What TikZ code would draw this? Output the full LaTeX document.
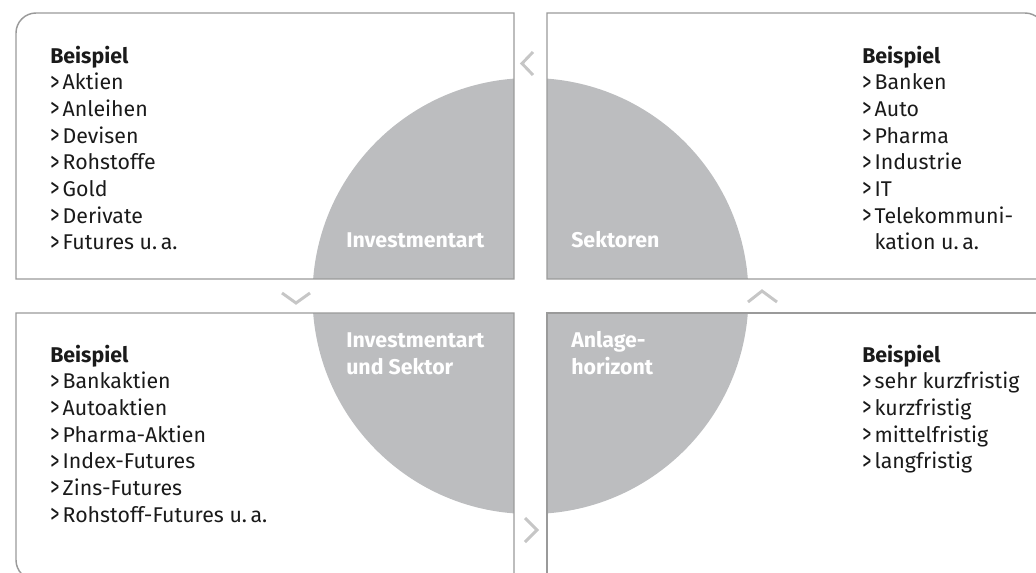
\documentclass[tikz,border=0pt]{standalone}
\usepackage{fontspec}
\usepackage{graphicx}
\setmainfont{Fira Sans}
\usetikzlibrary{positioning}

\definecolor{quadgray}{HTML}{BCBDBF}
\definecolor{framegray}{HTML}{9A9A9A}
\definecolor{arrowgray}{HTML}{C6C6C6}
\definecolor{textblack}{HTML}{1A1A1A}

\newcommand{\bsp}{\raisebox{-1pt}{\scalebox{0.85}[1.3]{\textgreater}}\hspace{2.5pt}}

\tikzset{
  panel/.style={draw=framegray, line width=1.1pt},
  chevron/.style={draw=arrowgray, line width=2.2pt},
  head/.style={anchor=base west, inner sep=0pt, text=textblack,
    font=\fontsize{16}{20}\selectfont\bfseries},
  item/.style={anchor=base west, inner sep=0pt, text=textblack,
    font=\fontsize{16}{20}\selectfont},
  quadlabel/.style={anchor=base west, inner sep=0pt, text=white,
    font=\fontsize{16}{20}\selectfont\bfseries},
}

\begin{document}
\begin{tikzpicture}[x=0.75pt, y=-0.75pt]

\useasboundingbox (0,0) rectangle (1036,572);
\clip (0,0) rectangle (1036,572);

% =========================
% CIRCLE AND GAPS
% =========================
\fill[quadgray] (530.5,296) circle (218);
\fill[white] (514,0) rectangle (547,572);
\fill[white] (0,279) rectangle (1036,313);

% =========================
% PANELS
% =========================
% top left
\draw[panel] (514,279) -- (16,279) -- (16,33)
  arc[start angle=180, end angle=270, radius=20] -- (514,13) -- cycle;
% top right
\draw[panel] (547,279) -- (547,13) -- (1025,13)
  arc[start angle=270, end angle=360, radius=20] -- (1045,279) -- cycle;
% bottom left
\draw[panel] (16,313) -- (514,313) -- (514,580) -- (36,580)
  arc[start angle=90, end angle=180, radius=20] -- cycle;
% bottom right
\draw[panel] (1045,313) -- (547,313) -- (547,600);

% =========================
% CHEVRONS
% =========================
\draw[chevron] (533,52) -- (522,63.5) -- (533,75);
\draw[chevron] (282,293) -- (296,303) -- (310,293);
\draw[chevron] (525,518) -- (537,530) -- (525,542);
\draw[chevron] (748,302) -- (762,291) -- (777,302);

% =========================
% QUADRANT LABELS
% =========================
\node[quadlabel] (artlabel) at (346,247) {Investmentart};
\node[quadlabel] (seklabel) at (571,247) {Sektoren};
\node[quadlabel] (mixlabel) at (346,347) {Investmentart};
\node[quadlabel] (mixlabelb) at (346,374) {und Sektor};
\node[quadlabel] (horlabel) at (571,347) {Anlage-};
\node[quadlabel] (horlabelb) at (571,374) {horizont};

% =========================
% EXAMPLES
% =========================
% Investmentart
\node[head] (tlhead) at (50,63) {Beispiel};
\foreach \t [count=\i] in {Aktien, Anleihen, Devisen, Rohstoffe, Gold,
    Derivate, Futures u.\,a.}
  \node[item] (tl\i) at (50,{63+26.7*\i}) {\bsp\t};

% Sektoren
\node[head] (trhead) at (862,63) {Beispiel};
\foreach \t [count=\i] in {Banken, Auto, Pharma, Industrie, IT,
    Telekommuni-}
  \node[item] (tr\i) at (862,{63+26.7*\i}) {\bsp\t};
\node[item] (tr7) at (862,{63+26.7*7}) {\phantom{\bsp}kation u.\,a.};

% Investmentart und Sektor
\node[head] (blhead) at (50,362) {Beispiel};
\foreach \t [count=\i] in {Bankaktien, Autoaktien, Pharma-Aktien,
    Index-Futures, Zins-Futures, Rohstoff-Futures u.\,a.}
  \node[item] (bl\i) at (50,{362+26.7*\i}) {\bsp\t};

% Anlagehorizont
\node[head] (brhead) at (862,362) {Beispiel};
\foreach \t [count=\i] in {sehr kurzfristig, kurzfristig, mittelfristig,
    langfristig}
  \node[item] (br\i) at (862,{362+26.7*\i}) {\bsp\t};

\end{tikzpicture}
\end{document}
